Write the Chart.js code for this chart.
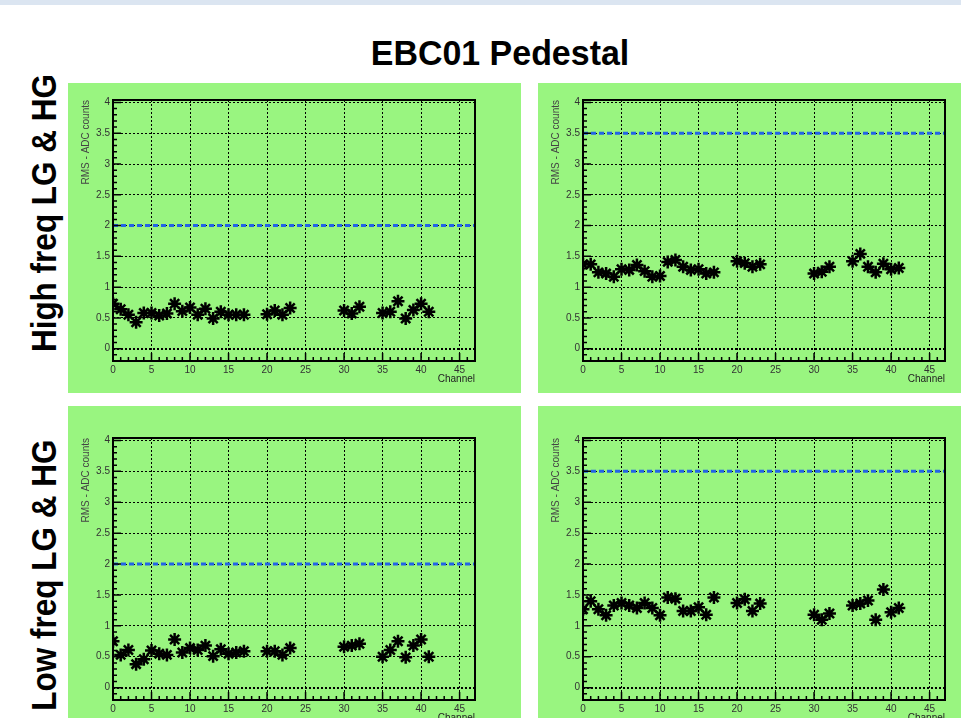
<!DOCTYPE html>
<html>
<head>
<meta charset="utf-8">
<script src="https://cdn.jsdelivr.net/npm/chart.js@4.4.1/dist/chart.umd.min.js"></script>
<style>
  html, body { margin: 0; padding: 0; background: #fff; width: 961px; height: 718px; overflow: hidden; }
  body { position: relative; font-family: "Liberation Sans", Arial, sans-serif; }
  #topbar { position: absolute; left: 0; top: 0; width: 961px; height: 5px; background: #dbe5f1; }
  #title { position: absolute; left: 300px; top: 36px; width: 400px; text-align: center;
           font-weight: bold; font-size: 35px; line-height: 34px; transform: scaleX(0.97); }
  .rowlabel { position: absolute; width: 320px; height: 40px; line-height: 40px; text-align: center;
              font-weight: bold; font-size: 35px; white-space: nowrap; transform: rotate(-90deg) scaleX(0.9); }
  .panel { position: absolute; background: #99f580; }
  .panel canvas { position: absolute; left: 0; top: 0; }
</style>
</head>
<body>
<div id="topbar"></div>
<div id="title">EBC01 Pedestal</div>
<div class="rowlabel" style="left:-116px; top:193px;">High freq LG &amp; HG</div>
<div class="rowlabel" style="left:-116px; top:555px;">Low freq LG &amp; HG</div>

<div class="panel" style="left:68px; top:83px; width:453px; height:310px;"><canvas id="c1" width="453" height="310"></canvas></div>
<div class="panel" style="left:538px; top:83px; width:423px; height:310px;"><canvas id="c2" width="423" height="310"></canvas></div>
<div class="panel" style="left:68px; top:406px; width:453px; height:326px;"><canvas id="c3" width="453" height="326"></canvas></div>
<div class="panel" style="left:538px; top:406px; width:423px; height:326px;"><canvas id="c4" width="423" height="326"></canvas></div>

<script>
// channels that have a reading
const channels = [0, 1, 2, 3, 4, 5, 6, 7, 8, 9, 10, 11, 12, 13, 14, 15, 16, 17,
                  20, 21, 22, 23, 30, 31, 32, 35, 36, 37, 38, 39, 40, 41];

// RMS values (ADC counts), one per channel above
const highFreqLeft = [0.73, 0.64, 0.55, 0.43, 0.58, 0.58, 0.54, 0.57, 0.73, 0.61, 0.67, 0.55, 0.65, 0.49, 0.60, 0.55, 0.55, 0.55,
                      0.56, 0.62, 0.55, 0.66, 0.62, 0.57, 0.68, 0.58, 0.60, 0.77, 0.49, 0.63, 0.73, 0.60];
const highFreqRight = [1.37, 1.37, 1.24, 1.22, 1.17, 1.29, 1.28, 1.36, 1.26, 1.17, 1.18, 1.41, 1.44, 1.33, 1.28, 1.29, 1.22, 1.24,
                       1.42, 1.39, 1.33, 1.37, 1.22, 1.25, 1.33, 1.42, 1.54, 1.33, 1.24, 1.38, 1.29, 1.31];
const lowFreqLeft = [0.75, 0.53, 0.61, 0.38, 0.46, 0.60, 0.55, 0.53, 0.78, 0.57, 0.64, 0.61, 0.68, 0.51, 0.62, 0.55, 0.57, 0.59,
                     0.59, 0.59, 0.53, 0.64, 0.66, 0.68, 0.71, 0.50, 0.61, 0.75, 0.49, 0.68, 0.78, 0.50];
const lowFreqRight = [1.27, 1.40, 1.27, 1.17, 1.33, 1.37, 1.33, 1.29, 1.37, 1.29, 1.17, 1.46, 1.44, 1.24, 1.24, 1.30, 1.18, 1.46,
                      1.37, 1.43, 1.24, 1.36, 1.18, 1.10, 1.20, 1.33, 1.36, 1.41, 1.10, 1.59, 1.22, 1.29];

// threshold lines
const limitLeft = 2;
const limitRight = 3.5;

const xTickValues = [0, 5, 10, 15, 20, 25, 30, 35, 40, 45];
const yTickValues = [0, 0.5, 1, 1.5, 2, 2.5, 3, 3.5, 4];
const yTickLabels = ['0', '0.5', '1', '1.5', '2', '2.5', '3', '3.5', '4'];
const xMin = 0, xMax = 47;
const yMin = -0.2, yMax = 4.04;

const FONT = "'Liberation Sans', Arial, sans-serif";

// ROOT style frame with ticks on the inside
const frameTicks = {
  id: 'frameTicks',
  afterDraw(chart) {
    const { ctx, chartArea: a, scales: { x, y } } = chart;
    ctx.save();
    ctx.strokeStyle = '#000';
    ctx.lineWidth = 1.5;
    ctx.beginPath();
    for (let i = -2; i <= 40; i++) {
      const py = y.getPixelForValue(i / 10);
      const len = i % 5 === 0 ? 8 : 4;
      ctx.moveTo(a.left, py);
      ctx.lineTo(a.left + len, py);
    }
    for (let c = xMin; c <= xMax; c++) {
      const px = x.getPixelForValue(c);
      const len = c % 5 === 0 ? 8 : 4;
      ctx.moveTo(px, a.bottom);
      ctx.lineTo(px, a.bottom - len);
    }
    ctx.stroke();
    ctx.lineWidth = 2;
    ctx.strokeRect(a.left, a.top, a.width, a.height);
    ctx.restore();
  }
};

function makePanel(id, values, limit, padRight, padTop) {
  const points = channels.map((c, i) => ({ x: c, y: values[i] }));
  new Chart(document.getElementById(id), {
    type: 'scatter',
    data: {
      datasets: [
        {
          data: points,
          pointStyle: 'star',
          pointRadius: 6.5,
          borderColor: '#000',
          borderWidth: 2.5,
          backgroundColor: '#000'
        },
        {
          type: 'line',
          data: [{ x: xMin, y: limit }, { x: xMax, y: limit }],
          borderColor: '#2364e6',
          borderWidth: 3,
          borderDash: [5, 3],
          pointRadius: 0,
          fill: false
        }
      ]
    },
    options: {
      responsive: false,
      animation: false,
      events: [],
      layout: { padding: { left: 0, top: padTop, right: padRight, bottom: 0 } },
      plugins: { legend: { display: false }, tooltip: { enabled: false } },
      scales: {
        x: {
          type: 'linear',
          min: xMin,
          max: xMax,
          afterBuildTicks: s => { s.ticks = xTickValues.map(v => ({ value: v })); },
          afterFit: s => { s.height = 32; },
          grid: { color: '#000', lineWidth: 1, drawTicks: false },
          border: { display: false, dash: [2, 2] },
          ticks: { padding: 3, color: '#333', font: { family: FONT, size: 10 }, maxRotation: 0 },
          title: { display: true, text: 'Channel', align: 'end', color: '#222',
                   font: { family: FONT, size: 10 }, padding: { top: 0, bottom: 8 } }
        },
        y: {
          type: 'linear',
          min: yMin,
          max: yMax,
          afterBuildTicks: s => { s.ticks = yTickValues.map(v => ({ value: v })); },
          afterFit: s => { s.width = 45; },
          grid: { color: '#000', lineWidth: c => (c.tick && c.tick.value === 0 ? 2 : 1), drawTicks: false },
          border: { display: false, dash: [2, 2] },
          ticks: {
            padding: 3, color: '#333', font: { family: FONT, size: 10 },
            callback: (v, i) => yTickLabels[i]
          },
          title: { display: true, text: 'RMS - ADC counts', align: 'end', color: '#444',
                   font: { family: FONT, size: 10 }, padding: { top: 12, bottom: 0 } }
        }
      }
    },
    plugins: [frameTicks]
  });
}

makePanel('c1', highFreqLeft, limitLeft, 46, 17);
makePanel('c2', highFreqRight, limitRight, 16, 17);
makePanel('c3', lowFreqLeft, limitLeft, 46, 32);
makePanel('c4', lowFreqRight, limitRight, 16, 32);
</script>
</body>
</html>
